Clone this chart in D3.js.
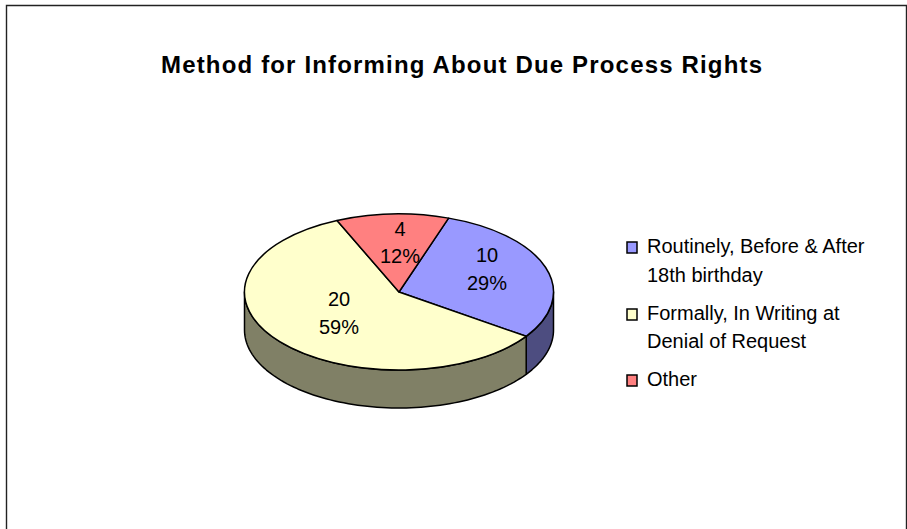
<!DOCTYPE html>
<html><head><meta charset="utf-8">
<script src="https://cdn.jsdelivr.net/npm/d3@7/dist/d3.min.js"></script>
<style>html,body{margin:0;padding:0;background:#fff}svg{display:block}text{font-family:"Liberation Sans",Arial,sans-serif;fill:#000}</style>
</head><body>
<script>
const categories = ["Routinely, Before & After|18th birthday", "Formally, In Writing at|Denial of Request", "Other"];
const values = [10, 20, 4];
const percentLabels = ["29%", "59%", "12%"];
const topColors = ["#9999ff", "#ffffcc", "#ff8080"];
const sideColors = ["#4d4d80", "#808066", "#804040"];
const titleText = "Method for Informing About Due Process Rights";

const W = 907, H = 529, cx = 399, cy = 292, rx = 154.5, ry = 78, depth = 38;
const svg = d3.select("body").append("svg").attr("width", W).attr("height", H);

svg.append("path").attr("d", `M6.5 ${H} V5.5 H906.5 V${H}`).attr("fill", "none").attr("stroke", "#222").attr("stroke-width", 1.4);

svg.append("text").attr("x", 461.5).attr("y", 73).attr("text-anchor", "middle")
  .attr("font-size", 24).attr("font-weight", "bold").attr("textLength", 601).attr("lengthAdjust", "spacing").text(titleText);

const start = 18.7 * Math.PI / 180;
const arcs = d3.pie().sort(null).startAngle(start).endAngle(start + 2 * Math.PI)(values);
const px = a => cx + rx * Math.sin(a), py = a => cy - ry * Math.cos(a);

// side wall: visible front half only
const front0 = Math.PI / 2, front1 = 3 * Math.PI / 2;
const wall = d3.area().x(a => px(a)).y0(a => py(a)).y1(a => py(a) + depth);
arcs.forEach((d, i) => {
  const a0 = Math.max(d.startAngle, front0), a1 = Math.min(d.endAngle, front1);
  if (a1 <= a0) return;
  const pts = d3.range(0, 81).map(k => a0 + (a1 - a0) * k / 80);
  svg.append("path").attr("d", wall(pts)).attr("fill", sideColors[i]).attr("stroke", "#000").attr("stroke-width", 1.5).attr("stroke-linejoin", "round");
});

// top face
const arc = d3.arc().innerRadius(0).outerRadius(1);
const topFace = svg.append("g").attr("transform", `translate(${cx},${cy}) scale(${rx},${ry})`);
topFace.selectAll("path").data(arcs).join("path").attr("d", arc)
  .attr("fill", (d, i) => topColors[i]).attr("stroke", "#000").attr("stroke-width", 1.5)
  .attr("stroke-linejoin", "round").attr("vector-effect", "non-scaling-stroke");

// data labels
const labelAt = [[487, 262, 290], [339, 306, 334], [400, 236, 263]];
values.forEach((v, i) => {
  const [x, y0, y1] = labelAt[i];
  svg.append("text").attr("x", x).attr("y", y0).attr("text-anchor", "middle").attr("font-size", 20).text(v);
  svg.append("text").attr("x", x).attr("y", y1).attr("text-anchor", "middle").attr("font-size", 20).text(percentLabels[i]);
});

// legend
const legendY = [[253, 282], [320, 348], [386]];
categories.forEach((c, i) => {
  const base = legendY[i][0];
  svg.append("rect").attr("x", 627).attr("y", base - 11).attr("width", 10).attr("height", 11)
    .attr("fill", topColors[i]).attr("stroke", "#000").attr("stroke-width", 1.5);
  c.split("|").forEach((line, j) => {
    svg.append("text").attr("x", 647).attr("y", legendY[i][j]).attr("font-size", 20).text(line);
  });
});
</script>
</body></html>
